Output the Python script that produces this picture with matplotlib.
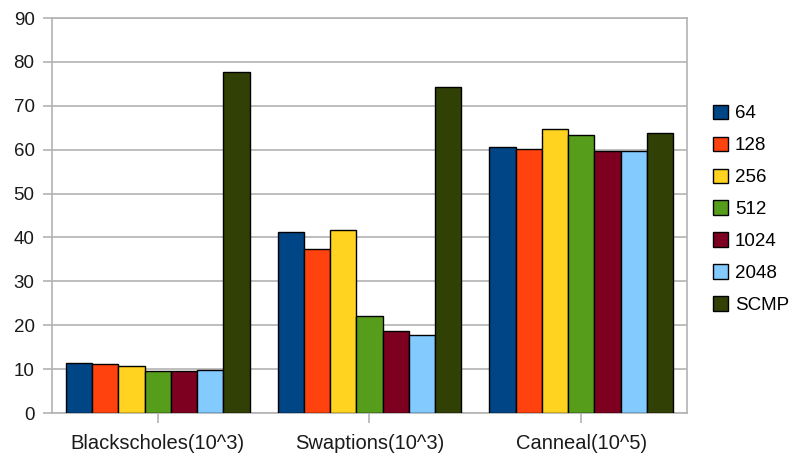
import numpy as np
import matplotlib.pyplot as plt
from matplotlib.patches import Patch

plt.rcParams['font.family'] = ['Liberation Sans', 'DejaVu Sans']

benchmarks = ['Blackscholes(10^3)', 'Swaptions(10^3)', 'Canneal(10^5)']
series = ['64', '128', '256', '512', '1024', '2048', 'SCMP']
v64 = [11.5, 41.2, 60.7]
v128 = [11.1, 37.3, 60.2]
v256 = [10.6, 41.7, 64.6]
v512 = [9.6, 22.2, 63.3]
v1024 = [9.6, 18.6, 59.8]
v2048 = [9.7, 17.7, 59.8]
vscmp = [77.6, 74.3, 63.9]
values = [v64, v128, v256, v512, v1024, v2048, vscmp]
colors = ['#004586', '#ff420e', '#ffd320', '#579d1c', '#7e0021', '#83caff', '#314004']

fig = plt.figure(figsize=(7.9, 4.55), dpi=100)
ax = fig.add_axes([0.0658, 0.0923, 0.8038, 0.8681])

x = np.arange(len(benchmarks))
w = 0.124
for i, (vals, c) in enumerate(zip(values, colors)):
    ax.bar(x + (i - 3) * w, vals, w, color=c, edgecolor='black', linewidth=1.0, zorder=3)

ax.set_xlim(-0.5, 2.5)
ax.set_ylim(0, 90)
ax.set_yticks(range(0, 91, 10))
ax.set_xticks(x)
ax.set_xticklabels(benchmarks)
ax.yaxis.grid(True, color='#b3b3b3', linewidth=1.2, zorder=0)
for s in ax.spines.values():
    s.set_color('#b3b3b3')
    s.set_linewidth(1.2)
ax.tick_params(axis='y', length=6.5, width=1.2, color='#b3b3b3', labelsize=13.5, labelcolor='#1a1a1a', pad=6)
ax.tick_params(axis='x', length=7, width=1.2, color='#b3b3b3', labelsize=14.5, labelcolor='#1a1a1a', pad=8)

handles = [Patch(facecolor=c, edgecolor='black', linewidth=1.0) for c in colors]
fig.legend(handles, series, loc='upper left', bbox_to_anchor=(0.9025, 0.770), frameon=False,
           fontsize=13.5, handlelength=0.8, handleheight=0.8, handletextpad=0.37,
           labelspacing=0.76, borderpad=0, borderaxespad=0)

fig.savefig('out.png', dpi=100)
